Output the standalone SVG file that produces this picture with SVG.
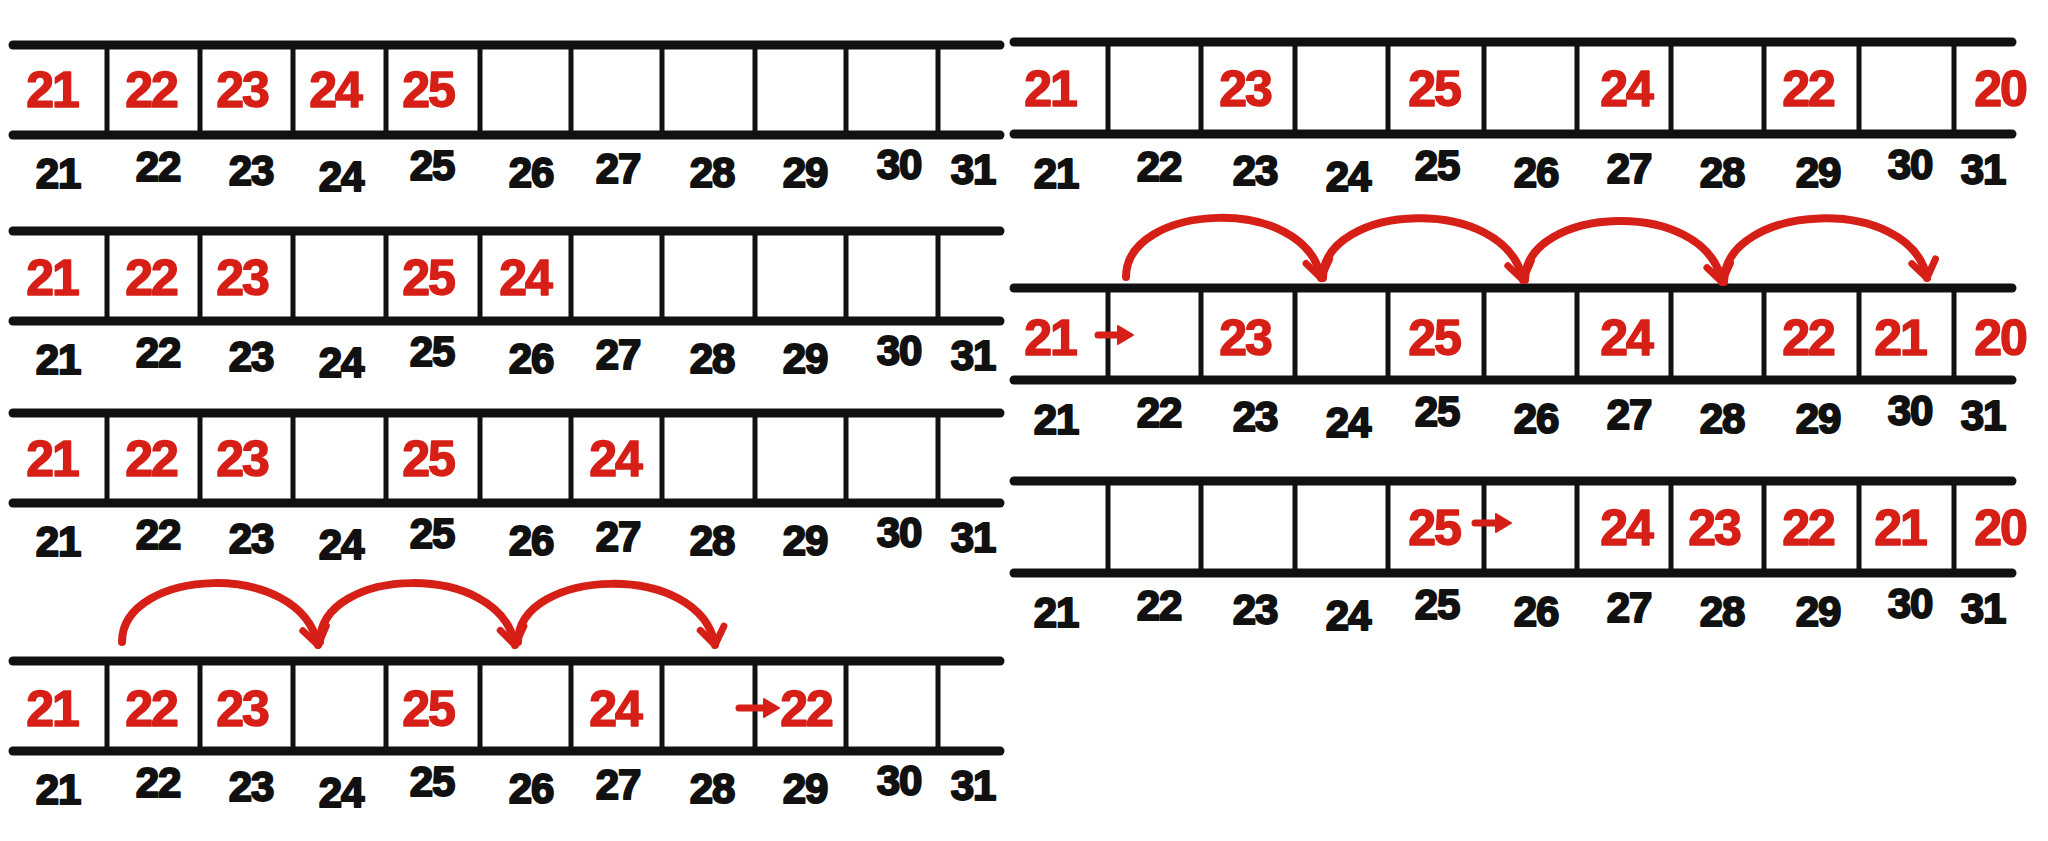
<svg xmlns="http://www.w3.org/2000/svg" width="2048" height="841" viewBox="0 0 2048 841">
<style>
.rail{stroke:#111;stroke-width:9;stroke-linecap:round;fill:none}
.div{stroke:#111;stroke-width:5;fill:none}
.red{fill:#d61f17;stroke:#d61f17;stroke-width:1.5;stroke-linejoin:round;font-family:"Liberation Sans",Arial,sans-serif;font-weight:bold;font-size:50px;text-anchor:middle;letter-spacing:-2px}
.lbl{fill:#111;stroke:#111;stroke-width:2;stroke-linejoin:round;font-family:"Liberation Sans",Arial,sans-serif;font-weight:bold;font-size:42px;text-anchor:middle;letter-spacing:-1px}
.arc{stroke:#d61f17;stroke-width:8;fill:none;stroke-linecap:round}
.sarrow{stroke:#d61f17;stroke-width:7;fill:none;stroke-linecap:round}
</style>
<defs>
<marker id="ah" viewBox="-22 -16 28 32" refX="0" refY="0" markerWidth="28" markerHeight="32" orient="auto" markerUnits="userSpaceOnUse" overflow="visible">
<path d="M-17,-12 L0,0 L-17,12" fill="none" stroke="#d61f17" stroke-width="7" stroke-linecap="round" stroke-linejoin="round"/>
</marker>
<marker id="sh" viewBox="-2 -10 18 20" refX="0" refY="0" markerWidth="18" markerHeight="20" orient="auto" markerUnits="userSpaceOnUse" overflow="visible">
<path d="M0,-9 L15,0 L0,9 Z" fill="#d61f17" stroke="#d61f17" stroke-width="2" stroke-linejoin="round"/>
</marker>
<g id="leftframe">
<line class="rail" x1="13" y1="0" x2="1000" y2="0"/>
<line class="rail" x1="13" y1="90" x2="1000" y2="90"/>
<path class="div" d="M107,0V90M200,0V90M293,0V90M386,0V90M480,0V90M571,0V90M662,0V90M755,0V90M846,0V90M938,0V90"/>
<g class="lbl">
<text x="58" y="143">21</text><text x="158" y="136">22</text><text x="251" y="140">23</text><text x="341" y="146">24</text><text x="432" y="135">25</text><text x="531" y="142">26</text><text x="618" y="138">27</text><text x="712" y="142">28</text><text x="805" y="142">29</text><text x="899" y="134">30</text><text x="973" y="139">31</text>
</g>
</g>
<g id="rightframe">
<line class="rail" x1="1014" y1="0" x2="2012" y2="0"/>
<line class="rail" x1="1014" y1="92" x2="2012" y2="92"/>
<path class="div" d="M1108,0V92M1201,0V92M1295,0V92M1388,0V92M1484,0V92M1577,0V92M1671,0V92M1764,0V92M1859,0V92M1954,0V92"/>
<g class="lbl">
<text x="1056" y="146">21</text><text x="1159" y="139">22</text><text x="1255" y="143">23</text><text x="1348" y="149">24</text><text x="1437" y="138">25</text><text x="1536" y="145">26</text><text x="1629" y="141">27</text><text x="1722" y="145">28</text><text x="1818" y="145">29</text><text x="1910" y="137">30</text><text x="1983" y="142">31</text>
</g>
</g>
</defs>

<g id="left-row1">
<use href="#leftframe" x="0" y="45"/>
<g class="red"><text x="52" y="107">21</text><text x="151" y="107">22</text><text x="242" y="107">23</text><text x="335" y="107">24</text><text x="428" y="107">25</text></g>
</g>

<g id="left-row2">
<use href="#leftframe" x="0" y="231"/>
<g class="red"><text x="52" y="295">21</text><text x="151" y="295">22</text><text x="242" y="295">23</text><text x="428" y="295">25</text><text x="525" y="295">24</text></g>
</g>

<g id="left-row3">
<use href="#leftframe" x="0" y="413"/>
<g class="red"><text x="52" y="476">21</text><text x="151" y="476">22</text><text x="242" y="476">23</text><text x="428" y="476">25</text><text x="615" y="476">24</text></g>
</g>

<g id="left-row4">
<use href="#leftframe" x="0" y="661"/>
<g class="red"><text x="52" y="726">21</text><text x="151" y="726">22</text><text x="242" y="726">23</text><text x="428" y="726">25</text><text x="615" y="726">24</text><text x="806" y="726">22</text></g>
</g>

<g id="right-row1">
<use href="#rightframe" x="0" y="42"/>
<g class="red"><text x="1050" y="106">21</text><text x="1245" y="106">23</text><text x="1434" y="106">25</text><text x="1626" y="106">24</text><text x="1808" y="106">22</text><text x="2000" y="106">20</text></g>
</g>

<g id="right-row2">
<use href="#rightframe" x="0" y="288"/>
<g class="red"><text x="1050" y="355">21</text><text x="1245" y="355">23</text><text x="1434" y="355">25</text><text x="1626" y="355">24</text><text x="1808" y="355">22</text><text x="1900" y="355">21</text><text x="2000" y="355">20</text></g>
</g>

<g id="right-row3">
<use href="#rightframe" x="0" y="481"/>
<g class="red"><text x="1434" y="545">25</text><text x="1626" y="545">24</text><text x="1714" y="545">23</text><text x="1808" y="545">22</text><text x="1900" y="545">21</text><text x="2000" y="545">20</text></g>
</g>

<g id="connectors">
<path class="arc" marker-end="url(#ah)" d="M122,642 C122,568 300,558 318,645"/>
<path class="arc" marker-end="url(#ah)" d="M320,642 C320,566 500,560 515,645"/>
<path class="arc" marker-end="url(#ah)" d="M518,642 C518,568 700,560 715,645"/>
<path class="arc" marker-end="url(#ah)" d="M1126,277 C1126,203 1305,193 1321,278"/>
<path class="arc" marker-end="url(#ah)" d="M1323,278 C1323,203 1505,193 1523,280"/>
<path class="arc" marker-end="url(#ah)" d="M1525,280 C1525,206 1705,196 1722,282"/>
<path class="arc" marker-end="url(#ah)" d="M1724,282 C1724,203 1910,193 1927,278"/>
<path class="sarrow" marker-end="url(#sh)" d="M739,708 L764,708"/>
<path class="sarrow" marker-end="url(#sh)" d="M1098,335 L1118,335"/>
<path class="sarrow" marker-end="url(#sh)" d="M1475,523 L1496,523"/>
</g>
</svg>
